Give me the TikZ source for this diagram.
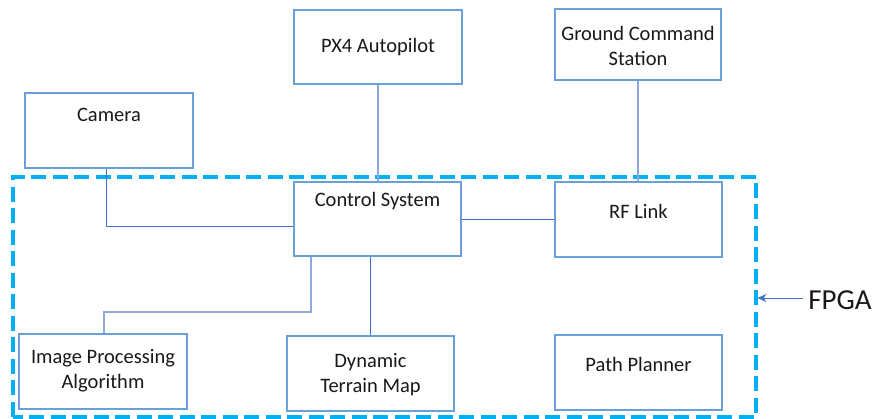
\documentclass[tikz,border=0pt]{standalone}
\usepackage{fontspec}
\setmainfont{Carlito}
\usetikzlibrary{arrows.meta}
\definecolor{boxc}{HTML}{6A9FD8}
\definecolor{linec}{HTML}{4472C4}
\definecolor{linel}{HTML}{8EA9DB}
\definecolor{fpgac}{HTML}{00B0F0}
\tikzset{
  blk/.style={draw=boxc, line width=1.4pt, fill=white, minimum width=167pt, minimum height=74pt, inner sep=0pt},
  txt/.style={font=\fontsize{20.5}{25}\selectfont, align=center, inner sep=0pt, text=black!90},
  conn/.style={draw=linec, line width=0.9pt},
  connl/.style={draw=linel, line width=1.2pt},
}
\begin{document}
\begin{tikzpicture}[x=1pt,y=1pt]
\useasboundingbox (0,0) rectangle (876,419);
% FPGA region
\draw[fpgac, line width=3.8pt, dash pattern=on 15pt off 6.5pt] (13,2) rectangle (756,242);
% boxes
\node[blk, minimum width=168pt] (px4) at (378,372) {};
\node[blk, minimum width=166pt, minimum height=71pt] (gcs) at (638,374.5) {};
\node[blk, minimum width=168pt, minimum height=75pt] (cam) at (109,288.5) {};
\node[blk] (ctrl) at (377.5,200) {};
\node[blk, minimum height=75pt] (rf) at (638.5,199.5) {};
\node[blk, minimum width=168pt, minimum height=75pt] (img) at (103,47.5) {};
\node[blk, minimum height=75pt] (dyn) at (370.5,45.5) {};
\node[blk, minimum height=75pt] (path) at (638.5,46.5) {};
% texts
\node[txt] (px4t) at (378,372) {PX4 Autopilot};
\node[txt] (gcst) at (638,373.5) {Ground Command\\Station};
\node[txt] (camt) at (109,304) {Camera};
\node[txt] (ctrlt) at (377.5,218) {Control System};
\node[txt] (rft) at (638.5,208) {RF Link};
\node[txt] (imgt) at (103,48.5) {Image Processing\\Algorithm};
\node[txt] (dynt) at (370.5,44) {Dynamic\\Terrain Map};
\node[txt] (patht) at (638.5,55) {Path Planner};
\node[font=\fontsize{29}{32}\selectfont, inner sep=0pt, text=black!90] (fpga) at (840,119) {FPGA};
\coordinate (fpgaedge) at (757.5,121);
% connectors
\draw[connl] (px4.south) -- (px4.south |- ctrl.north);
\draw[connl] (gcs.south) -- (gcs.south |- rf.north);
\draw[conn] ([xshift=-3pt]cam.south) |- ([yshift=-7pt]ctrl.west);
\draw[conn] (ctrl.east) -- (ctrl.east -| rf.west);
\coordinate (bend) at (311,107);
\draw[connl] (ctrl.south -| bend) -- (bend) -| ([xshift=1pt]img.north);
\draw[conn] (dyn.north |- ctrl.south) -- (dyn.north);
\draw[conn, -{Stealth[length=9pt,width=8pt]}] ([xshift=-5pt]fpga.west |- fpgaedge) -- (fpgaedge);
\end{tikzpicture}
\end{document}
